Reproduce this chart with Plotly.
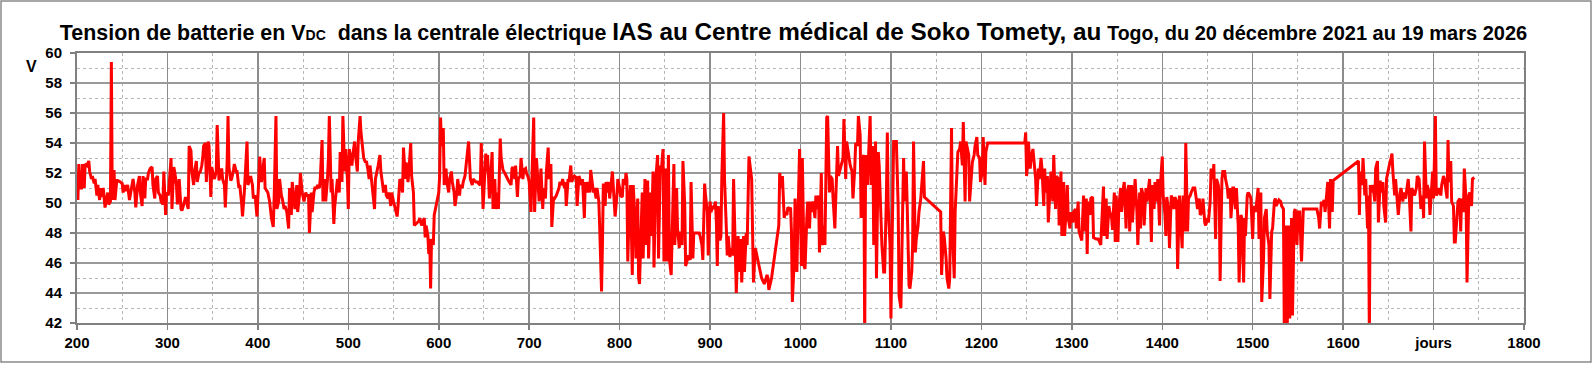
import plotly.graph_objects as go

# ---------------- data : (day, volts) ----------------
seg_a = [(201,50.2),(202,52.6),(203,51.0),(205,51.0),(206,52.6),(208,51.0),(209,52.6),(211,52.5),(213,52.8),(214,52.1),
 (216,51.6),(217,51.8),(219,51.3),(220,51.6),(222,50.5),(223,51.2),(225,50.2),(226,51.0),(228,50.4),(229,51.0),
 (231,49.7),(232,50.1),(234,50.7),(235,49.9),(237,50.1),(238,59.4),(239,50.2),(241,52.2),(242,50.2),(244,51.5),
 (245,51.5),(248,51.4),(250,51.3),(251,50.7),(253,51.2),(254,50.8),(256,51.2),(258,50.2),(260,51.0),(262,51.6),
 (264,50.7),(265,49.7),(267,51.2),(269,51.8),(270,50.7),(272,49.8),(273,51.8),(275,50.3),(276,51.6),(278,51.6),
 (279,52.0),(281,52.3),(283,52.4),(284,51.2),(286,50.3),(287,51.6),(289,51.8),(290,50.7),(292,50.5),(293,50.1),
 (295,49.9),(296,52.1),(298,49.2),(299,50.7),(301,50.5),(302,51.6),(304,53.0),(305,49.6),(307,52.4),(308,52.1),
 (310,51.2),(311,49.9),(313,51.6),(315,49.6),(316,49.5),(318,49.9),(320,50.4),(321,50.1),(323,49.6),(324,53.8),
 (326,53.5),(327,52.1),(329,51.2),(330,52.1),(332,52.8),(333,51.4),(335,52.1),(336,52.0),(338,52.5),(339,53.0),
 (340,53.8),(342,54.0),(343,51.4),(345,54.1),(346,53.8),(348,50.4),(349,52.4),(351,51.8),(352,51.6),(354,52.1),
 (355,55.2),(357,51.5),(358,51.8),(360,52.3),(361,51.6),(363,51.2),(364,49.7),(366,52.7),(367,55.8),(368,52.4),
 (370,51.5),(371,51.6),(373,52.2),(374,52.6),(376,52.1),(377,52.1),(379,51.0),(380,51.2),(382,50.0),(383,49.1),
 (385,50.7),(386,52.1),(388,54.1),(389,51.2),(391,51.6),(392,51.8),(394,51.2),(395,50.3),(397,50.5),(398,49.9),
 (399,49.1),(401,51.6),(402,53.1),(404,51.4),(405,52.1),(407,53.0)]

seg_b = [(408,51.0),(411,50.7),(413,50.1),(415,49.0),(417,48.4),(418,50.3),(420,55.8),(421,49.6),(423,50.1),(424,51.6),
 (426,50.5),(427,50.3),(429,49.6),(430,49.8),(432,49.4),(433,49.0),(434,48.3),(435,51.0),(437,49.2),(438,51.4),
 (440,49.8),(441,49.6),(443,51.2),(444,49.4),(446,50.5),(447,52.0),(449,50.7),(450,50.3),(451,50.1),(453,50.7),
 (454,50.5),(456,50.5),(457,48.0),(459,50.7),(460,49.4),(462,50.7),(463,51.0),(465,51.0),(466,51.2),(468,51.0),
 (469,51.6),(471,54.2),(472,50.1),(474,51.6),(475,50.1),(477,51.6),(478,53.0),(479,55.8),(481,50.7),(482,51.6),
 (484,48.6),(485,49.8),(487,51.0),(488,51.6),(490,50.7),(491,53.4),(493,51.4),(494,55.8),(496,52.1),(497,53.6),
 (499,51.6),(500,49.6),(501,53.6),(502,53.2),(504,52.5),(505,53.2),(507,54.1),(508,53.2),(510,52.1),(511,54.1),
 (513,55.8),(514,54.7),(516,53.8),(517,53.0),(519,52.7),(520,52.8),(522,52.1),(523,51.6),(524,52.5),(526,51.2),
 (527,50.5),(529,49.6),(530,51.6),(532,52.1),(533,52.5),(535,53.2),(536,52.1),(538,51.2),(539,50.7),(541,51.2),
 (542,50.5),(544,50.3),(545,50.7),(547,49.8),(548,50.7),(550,50.1),(551,49.8),(553,49.4),(554,49.1),(555,49.8),
 (557,51.6),(558,51.4),(560,50.7),(561,53.7),(563,51.6),(564,52.7),(566,51.4),(567,52.1),(569,54.0),(570,51.8),
 (572,50.7),(573,48.5),(575,48.6),(576,48.7),(578,48.8),(579,49.0),(581,48.5),(582,48.7),(584,49.0),(585,47.7),
 (586,48.5),(588,47.8),(589,46.6),(590,47.6),(591,44.3),(592,47.6),(594,47.2),(595,49.2),(597,50.0),(598,50.1),
 (600,50.7),(601,51.8),(602,55.7),(603,53.8),(605,55.0),(606,51.2),(608,52.3),(609,51.4),(611,50.7),(612,51.6),
 (614,52.1),(615,51.4),(617,50.7),(618,49.8),(620,50.7),(621,51.6),(623,50.5),(624,51.2),(626,51.0),(627,51.4),
 (629,51.8),(630,52.5),(631,53.0),(633,54.1)]

seg_c = [(635,51.6),(637,51.2),(638,51.6),(640,51.5),(641,51.4),(643,51.4),(644,51.3),(646,51.2),(647,54.0),(649,49.6),
 (650,51.2),(652,53.3),(653,52.1),(654,53.2),(656,50.3),(657,51.6),(659,53.4),(660,49.6),(662,51.6),(663,49.6),
 (665,50.7),(666,49.6),(668,54.3),(669,53.0),(671,52.2),(673,52.0),(675,51.7),(677,51.5),(680,51.2),(681,52.3),
 (682,52.4),(684,51.6),(685,52.5),(687,50.4),(688,51.6),(690,51.8),(691,53.0),(693,51.6),(694,52.2),(696,52.3),
 (697,52.0),(699,51.7),(700,51.4),(702,49.4),(703,51.6),(705,55.7),(706,49.4),(708,53.0),(709,52.1),(711,50.1),
 (712,51.0),(713,52.3),(715,49.6),(716,51.0),(718,50.3),(719,52.1),(721,53.7),(722,51.6),(724,52.6),(725,48.4),
 (727,50.4),(728,50.3),(730,50.5),(731,50.7),(733,51.0),(734,51.4),(736,51.2),(737,51.6),(739,51.0),(740,51.4),
 (741,49.8),(743,51.6),(744,51.4),(746,52.5),(747,51.4),(749,51.7),(750,51.8),(752,51.7),(753,49.8),(755,51.8),
 (756,51.6),(758,51.2),(759,51.6),(761,49.0),(762,51.4),(764,50.7),(765,51.4),(767,50.7),(768,52.2),(770,51.2),
 (771,50.7),(772,51.0),(774,50.3),(775,51.0),(777,50.1),(778,48.3),(780,44.1),(781,47.2),(782,51.3),(784,49.8),
 (785,51.4),(786,50.7),(788,51.4),(789,50.3),(791,51.6),(792,52.1),(794,50.1),(795,49.1),(797,50.5),(798,51.6),
 (800,51.0),(801,50.5),(803,50.4),(804,51.6),(806,51.2),(807,52.0),(808,51.6),(809,46.1),(811,50.3),(812,51.2),
 (814,45.2),(815,51.2),(817,49.0),(818,46.3),(820,50.3),(821,45.0),(822,44.6),(823,46.7),(825,50.7),(826,46.3),
 (828,51.6),(829,47.2),(831,51.5),(832,46.3),(834,50.7),(835,47.8),(837,52.1),(838,45.7),(839,49.4),(840,51.6),
 (842,53.2),(843,46.3),(845,52.5),(846,52.1),(848,53.6),(849,46.1),(851,52.3),(852,46.1),(854,53.2)]

seg_d = [(855,46.3),(857,45.2),(858,48.1),(860,52.6),(861,47.2),(863,51.0),(864,48.3),(866,47.0),(867,48.1),(869,47.2),
 (870,52.8),(872,49.8),(873,45.8),(875,46.3),(876,46.5),(878,46.2),(879,51.4),(881,46.3),(882,48.0),(884,48.0),
 (886,48.0),(888,48.0),(889,47.8),(891,47.2),(892,46.2),(894,51.3),(895,50.5),(897,49.4),(898,46.5),(900,50.1),
 (901,49.4),(903,49.8),(904,49.6),(906,50.1),(907,48.7),(908,45.8),(909,49.8),(911,47.5),(912,47.8),(913,51.7),
 (915,56.0),(916,51.6),(918,48.3),(919,46.5),(920,47.8),(922,46.4),(923,47.0),(925,46.5),(926,51.6),(928,47.6),
 (929,44.0),(931,47.8),(932,45.4),(934,47.6),(935,44.7),(937,47.8),(938,45.4),(940,48.0),(941,47.2),(943,53.1),
 (944,52.7),(946,51.6),(947,48.1),(948,44.7),(950,47.0),(951,46.7),(953,46.3),(955,45.6),(957,45.0),(960,44.6),
 (961,44.8),(963,45.2),(964,45.0),(965,44.2),(968,45.0),(970,45.8),(972,46.7),(974,47.4),(976,48.5),(977,52.0),
 (979,51.0),(980,51.8),(982,49.0),(983,49.4),(985,49.2),(986,49.7),(988,49.6),(989,49.7),(990,48.1),(991,43.4),
 (993,46.1),(994,50.3),(996,45.4),(997,48.5),(998,50.3),(999,53.6),(1001,45.8),(1002,53.0),(1004,45.8),(1005,45.6),
 (1007,49.0),(1008,50.1),(1010,48.3),(1011,50.1),(1013,49.4),(1014,50.1),(1016,49.0),(1017,50.5),(1018,49.6),(1020,50.5),
 (1021,46.7),(1023,52.0),(1024,47.2),(1026,48.5),(1027,47.2),(1029,55.7),(1030,55.8),(1032,50.7),(1033,51.8),(1035,51.6),
 (1036,50.3),(1038,48.3),(1039,50.3),(1041,53.8),(1042,51.8),(1044,52.3),(1045,52.7),(1047,53.0),(1048,55.6),(1050,51.6),
 (1051,54.1),(1052,53.6),(1054,52.7),(1055,52.5),(1057,52.1),(1058,50.3),(1060,52.3),(1061,54.0),(1063,53.8),(1064,55.8),
 (1066,54.5),(1067,49.0),(1069,53.0),(1070,53.2)]

seg_e = [(1071,41.0),(1072,53.2),(1074,51.2),(1075,53.2),(1077,55.8),(1078,51.2),(1080,53.8),(1081,47.2),(1083,54.1),(1084,45.0),
 (1086,53.4),(1087,52.5),(1089,48.3),(1090,47.2),(1092,45.4),(1093,45.4),(1095,50.5),(1096,54.7),(1097,49.8),(1099,47.2),
 (1100,42.3),(1102,51.2),(1103,54.1),(1105,54.1),(1106,54.1),(1108,49.8),(1109,43.8),(1111,43.0),(1112,47.2),(1114,53.0),
 (1115,50.1),(1117,52.1),(1118,49.8),(1120,44.5),(1121,44.3),(1123,45.4),(1124,47.2),(1125,54.1),(1127,46.7),(1128,47.6),
 (1130,48.5),(1131,49.4),(1133,50.3),(1134,51.2),(1136,52.8),(1137,50.4),(1155,49.4),(1156,45.2),(1158,48.1),(1159,47.7),
 (1161,46.3),(1162,45.0),(1164,44.3),(1165,45.0),(1167,55.0),(1168,48.1),(1170,45.0),(1171,49.4),(1173,53.0),(1174,53.4),
 (1176,53.6),(1177,54.1),(1179,52.5),(1180,55.4),(1182,50.1),(1183,54.1),(1184,53.8),(1186,53.2),(1187,50.1),(1189,52.3),
 (1190,52.7),(1192,53.2),(1193,53.8),(1195,54.4),(1196,53.2),(1198,53.0),(1199,51.4),(1201,52.1),(1202,54.4),(1204,51.2),
 (1205,53.4),(1207,54.0),(1248,54.0),(1249,54.7),(1250,51.8),(1251,52.5),(1252,54.1),(1254,52.3),(1255,53.0),(1257,53.6),
 (1258,52.7),(1260,51.6),(1261,49.8),(1263,52.3),(1264,51.6),(1266,53.0),(1267,52.3),(1269,49.8),(1270,52.3),(1271,50.7),
 (1273,51.8),(1274,48.7),(1276,51.0),(1277,52.1),(1279,50.1),(1280,53.2),(1282,49.6),(1283,51.8),(1285,51.6),(1286,48.5),
 (1288,52.1),(1289,47.8),(1291,51.4),(1292,47.8),(1294,49.8),(1295,51.2)]

seg_f = [(1296,49.0),(1298,48.3),(1299,49.4),(1301,48.7),(1302,49.4),(1304,49.6),(1305,48.3),(1307,50.1),(1308,48.1),(1310,47.6),
 (1311,47.5),(1313,50.5),(1314,48.1),(1316,50.3),(1317,46.6),(1318,50.1),(1320,49.2),(1321,50.3),(1323,50.4),(1324,47.7),
 (1326,47.6),(1327,47.6),(1329,47.6),(1330,47.5),(1332,47.2),(1333,48.7),(1335,51.1),(1336,47.8),(1338,50.3),(1339,47.6),
 (1341,49.8),(1342,49.4),(1344,49.0),(1345,48.2),(1347,50.7),(1348,47.4),(1349,50.5),(1351,47.4),(1352,49.8),(1354,51.0),
 (1355,49.4),(1357,51.0),(1358,51.4),(1360,48.3),(1361,50.7),(1363,51.2),(1364,48.1),(1366,51.2),(1367,48.7),(1369,50.6),
 (1370,51.6),(1372,49.4),(1373,47.2),(1375,50.7),(1376,48.3),(1377,51.0),(1379,50.5),(1380,48.5),(1382,51.0),(1383,50.1),
 (1385,51.0),(1386,51.6),(1388,47.4),(1389,51.2),(1391,49.6),(1392,51.4),(1394,50.1),(1395,51.6),(1397,48.5),(1398,51.2),
 (1400,53.1),(1401,50.5),(1403,49.2),(1404,47.8),(1405,50.4),(1407,49.4),(1408,47.0),(1410,50.5),(1411,50.3),(1413,49.6),
 (1414,50.4),(1416,50.1),(1417,45.6),(1419,50.5),(1420,49.4),(1422,47.0),(1423,50.5),(1425,48.1),(1426,54.0),(1428,48.1),
 (1429,50.3),(1431,50.5),(1432,50.7),(1434,51.0),(1435,51.0),(1436,51.0),(1438,50.1),(1439,49.6),(1441,50.3),(1442,49.2),
 (1444,49.4),(1445,50.3),(1447,48.7),(1448,48.5),(1450,49.0),(1451,48.7),(1453,50.1),(1454,52.3),(1456,51.6),(1457,52.6),
 (1459,47.6),(1460,51.6),(1462,51.2),(1463,50.5),(1464,44.8),(1466,51.6),(1467,52.1),(1469,52.1),(1470,51.6),(1472,51.0),
 (1473,50.3),(1475,51.0),(1476,49.0),(1478,51.0),(1479,51.0),(1481,49.6),(1482,51.0),(1484,48.5),(1485,44.7),(1487,49.2),
 (1488,49.0),(1490,44.7),(1491,49.0),(1492,47.8),(1494,50.5),(1495,50.7),(1497,50.5),(1498,50.3),(1500,47.6),(1501,49.8),
 (1503,49.4),(1504,49.8),(1506,51.0),(1507,47.6),(1509,50.7),(1510,43.4),(1512,46.3),(1513,49.0),(1515,49.6)]

seg_g = [(1516,48.1),(1518,47.2),(1519,43.6),(1521,48.1),(1522,48.3),(1524,50.1),(1525,50.3),(1526,49.8),(1528,50.1),(1529,50.2),
 (1531,50.1),(1532,49.8),(1534,49.6),(1535,41.0),(1537,48.5),(1538,41.0),(1540,48.5),(1541,42.3),(1543,49.0),(1544,42.5),
 (1546,49.4),(1547,49.6),(1549,47.2),(1550,49.4),(1552,49.4),(1553,48.1),(1554,46.1),(1556,49.6),(1571,49.6),(1573,49.0),
 (1574,48.3),(1576,50.1),(1577,49.8),(1579,50.2),(1580,49.4),(1582,50.7),(1583,51.4),(1585,48.3),(1586,51.6),(1588,49.4),
 (1589,51.5),(1617,52.8),(1618,49.2),(1619,52.1),(1621,51.2),(1622,53.0),(1624,50.5),(1625,51.6),(1627,48.3),(1628,50.5),
 (1629,41.0),(1630,51.2),(1632,50.7),(1633,51.2),(1635,50.1),(1636,52.3),(1638,52.8),(1639,48.7),(1641,51.5),(1642,50.7),
 (1644,51.4),(1645,49.8),(1647,48.7),(1648,51.6),(1650,52.4),(1651,52.5),(1653,53.0),(1654,53.3),(1655,52.1),(1657,50.5),
 (1658,51.6),(1660,50.3),(1661,49.2),(1663,50.7),(1664,51.0),(1666,50.1),(1667,50.7),(1669,50.3),(1670,50.7),(1672,51.6),
 (1673,50.7),(1675,48.1),(1676,51.0),(1678,50.7),(1679,50.5),(1681,51.0),(1682,51.8),(1684,51.6),(1685,50.1),(1686,49.6),
 (1688,50.5),(1689,49.0),(1690,54.1),(1692,50.3),(1693,51.2),(1695,50.7),(1696,49.2),(1698,51.2),(1699,52.1),(1700,50.3),
 (1702,55.8),(1703,50.5),(1705,50.7),(1706,51.0),(1708,50.5),(1709,51.2),(1711,51.8),(1712,51.6),(1714,50.7),(1715,50.3),
 (1716,54.2),(1717,51.4),(1719,52.8),(1720,50.1),(1722,49.8),(1723,47.4),(1724,47.4),(1726,49.4),(1727,50.1),(1729,50.3),
 (1730,48.1),(1731,50.3),(1733,49.4),(1734,52.3),(1736,50.1),(1737,44.7),(1739,50.5),(1740,50.7),(1742,49.8),(1743,51.6),
 (1745,51.7)]

x_tick_vals = [200, 300, 400, 500, 600, 700, 800, 900, 1000, 1100, 1200, 1300, 1400, 1500, 1600, 1700, 1800]
x_tick_text = ["200", "300", "400", "500", "600", "700", "800", "900", "1000", "1100", "1200", "1300", "1400",
               "1500", "1600", "jours", "1800"]
y_tick_vals = [42, 44, 46, 48, 50, 52, 54, 56, 58, 60]

all_points = seg_a + seg_b + seg_c + seg_d + seg_e + seg_f + seg_g
days = [p[0] for p in all_points]
volts = [p[1] for p in all_points]

# ---------------- figure ----------------
W, H = 1595, 365
L, R, T, B = 77, 71, 53, 42
PW, PH = W - L - R, H - T - B
FONT = "Liberation Sans, Arial, Helvetica, sans-serif"

fig = go.Figure()
fig.add_trace(go.Scatter(x=days, y=volts, mode="lines",
                         line=dict(color="#ff0000", width=3), hoverinfo="skip"))

title_text = ("<span style='font-size:21.4px'>Tension de batterie en V</span><span style='font-size:14px'>DC</span>"
              "<span style='font-size:21.4px'>\u00a0 dans la centrale électrique</span> "
              "<span style='font-size:24.3px'>IAS au Centre médical de Soko Tomety, au</span> "
              "<span style='font-size:19.5px'>Togo,</span> "
              "<span style='font-size:20px'>du 20 décembre 2021 au 19 mars 2026</span>")

fig.update_layout(
    width=W, height=H,
    margin=dict(l=L, r=R, t=T, b=B, pad=0, autoexpand=False),
    paper_bgcolor="white", plot_bgcolor="white", showlegend=False,
    font=dict(family=FONT, color="black"),
    title=dict(text=title_text, x=0.4975, xref="container", xanchor="center",
               y=1 - 33 / H, yref="container", yanchor="middle",
               font=dict(family=FONT, size=21, color="black", weight="bold")),
)

fig.update_xaxes(
    range=[200, 1800], tickmode="array", tickvals=x_tick_vals, ticktext=x_tick_text,
    showgrid=True, gridcolor="#8c8c8c", gridwidth=1.5,
    minor=dict(tickmode="linear", tick0=200, dtick=50, showgrid=True,
               gridcolor="#b5b5b5", griddash="dot", gridwidth=1),
    ticks="outside", ticklen=5, tickwidth=1.5, tickcolor="#808080",
    showline=True, mirror=True, linecolor="#808080", linewidth=2,
    zeroline=False, tickfont=dict(family=FONT, size=15, color="black", weight="bold"),
    ticklabelstandoff=0, fixedrange=True,
)
fig.update_yaxes(
    range=[42, 60], tickmode="array", tickvals=y_tick_vals,
    showgrid=True, gridcolor="#9a9a9a", gridwidth=2,
    minor=dict(tickmode="linear", tick0=42, dtick=1, showgrid=True,
               gridcolor="#b5b5b5", griddash="dot", gridwidth=1),
    ticks="outside", ticklen=5, tickwidth=1.5, tickcolor="#808080",
    showline=True, mirror=True, linecolor="#808080", linewidth=2,
    zeroline=False, tickfont=dict(family=FONT, size=15, color="black", weight="bold"),
    ticklabelstandoff=5, fixedrange=True,
)

# "V" unit label
fig.add_annotation(text="V", xref="paper", yref="paper",
                   x=(31 - L) / PW, y=(H - B - 66) / PH, xanchor="center", yanchor="middle",
                   showarrow=False, font=dict(family=FONT, size=16, color="black", weight="bold"))

# outer frame of the picture
fig.add_shape(type="rect", xref="paper", yref="paper",
              x0=(1 - L) / PW, x1=(1591 - L) / PW, y0=(H - B - 362) / PH, y1=(H - B - 1) / PH,
              line=dict(color="#8a8a8a", width=1.5), fillcolor="rgba(0,0,0,0)", layer="below")

fig.write_html("out.html",
               config={"displayModeBar": False, "staticPlot": True},
               post_script="document.body.style.margin='0';document.body.style.overflow='hidden';")
